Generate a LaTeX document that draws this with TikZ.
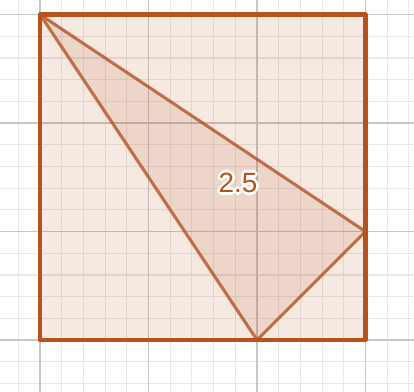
\documentclass[tikz,border=0pt]{standalone}
\usepackage{fontspec}
\usepackage{tikz}
\newfontfamily\labelfont{Liberation Sans}
\definecolor{mrust}{rgb}{0.71, 0.32, 0.12}
\definecolor{mgridmajor}{gray}{0.78}
\definecolor{mgridminor}{gray}{0.91}
\tikzset{minorgrid/.style = {mgridminor, line width=0.3pt}}
\tikzset{majorgrid/.style = {mgridmajor, line width=0.45pt}}
\tikzset{region/.style = {fill=mrust, fill opacity=0.13}}
\tikzset{edge/.style = {draw=mrust, line width=1.1pt, line join=round}}
\tikzset{tri/.style = {draw=mrust, draw opacity=0.8, line width=0.8pt, line join=round}}
\tikzset{lbltext/.style = {font=\fontsize{7.3}{8}\labelfont, inner sep=0}}

\begin{document}
\begin{tikzpicture}
      \useasboundingbox (-0.369, -0.479) rectangle (3.447, 3.134);

      \draw [minorgrid] (-0.4, -0.6) grid [step=0.2] (3.6, 3.2);
      \draw [majorgrid] (-0.4, -0.6) grid [step=1] (3.6, 3.2);

      \coordinate (sw) at (0, 0);
      \coordinate (se) at (3, 0);
      \coordinate (ne) at (3, 3);
      \coordinate (nw) at (0, 3);
      \coordinate (r) at (3, 1);
      \coordinate (b) at (2, 0);

      \fill [region] (sw) -- (se) -- (ne) -- (nw) -- cycle;
      \fill [region] (nw) -- (r) -- (b) -- cycle;
      \draw [tri] (nw) -- (r) -- (b) -- cycle;
      \draw [edge] (sw) -- (se) -- (ne) -- (nw) -- cycle;

      % white halo round the label
      \foreach \a in {0, 30, ..., 330}
        \node [lbltext, white] at ([shift={(\a:0.7pt)}] 1.825, 1.447) {2.5};
      \node [lbltext, text=mrust] (lbl) at (1.825, 1.447) {2.5};
    \end{tikzpicture}
\end{document}
